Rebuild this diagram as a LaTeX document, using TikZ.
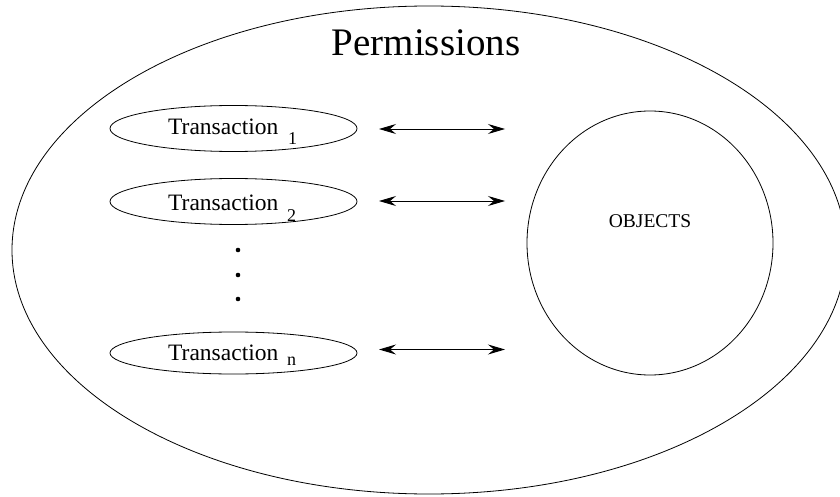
\documentclass[tikz,border=0pt]{standalone}
\usepackage{fontspec}
\setmainfont{Liberation Serif}
\usetikzlibrary{arrows.meta,shapes.geometric}
\tikzset{
  oval/.style={draw,ellipse,line width=0.8pt,inner sep=0pt},
  tx/.style={oval,minimum width=247pt,minimum height=46pt},
  lbl/.style={anchor=base west,inner sep=0pt,font=\fontsize{23.5}{23.5}\selectfont},
  sub/.style={anchor=base west,inner sep=0pt,font=\fontsize{18}{18}\selectfont},
  link/.style={line width=0.9pt,{Stealth[length=17pt,width=10pt,inset=6pt]}-{Stealth[length=17pt,width=10pt,inset=6pt]}},
  dotmark/.style={circle,fill,inner sep=0pt,minimum size=4.6pt}
}
\begin{document}
\begin{tikzpicture}[x=1pt,y=-1pt]
\useasboundingbox (0,0) rectangle (840,497);
\node[oval,minimum width=834pt,minimum height=488pt] (perm) at (429,250) {};
\node[anchor=base,inner sep=0pt,font=\fontsize{39}{39}\selectfont] (permlbl) at (426,56) {Permissions};
\node[oval,minimum width=246pt,minimum height=264pt] (obj) at (650,243) {};
\node[anchor=base,inner sep=0pt,font=\fontsize{19.5}{19.5}\selectfont] (objlbl) at (650,227) {OBJECTS};
\node[tx] (t1) at (233.5,128.5) {};
\node[tx] (t2) at (233.5,201.5) {};
\node[tx,minimum height=42pt] (tn) at (233.5,353) {};
\node[lbl] (l1) at (168,135) {Transaction};
\node[sub] (s1) at (288,145) {1};
\node[lbl] (l2) at (168,210) {Transaction};
\node[sub] (s2) at (287,222) {2};
\node[lbl] (ln) at (168,360) {Transaction};
\node[sub] (sn) at (287,365) {n};
\node[dotmark] (d1) at (238,250) {};
\node[dotmark] (d2) at (238,275) {};
\node[dotmark] (d3) at (238,299) {};
\coordinate (a1) at (379,129);
\coordinate (b1) at (505,129);
\coordinate (a2) at (379,201);
\coordinate (b2) at (505,201);
\coordinate (an) at (379,349.5);
\coordinate (bn) at (505,349.5);
\draw[link] (a1) -- (b1);
\draw[link] (a2) -- (b2);
\draw[link] (an) -- (bn);
\end{tikzpicture}
\end{document}
